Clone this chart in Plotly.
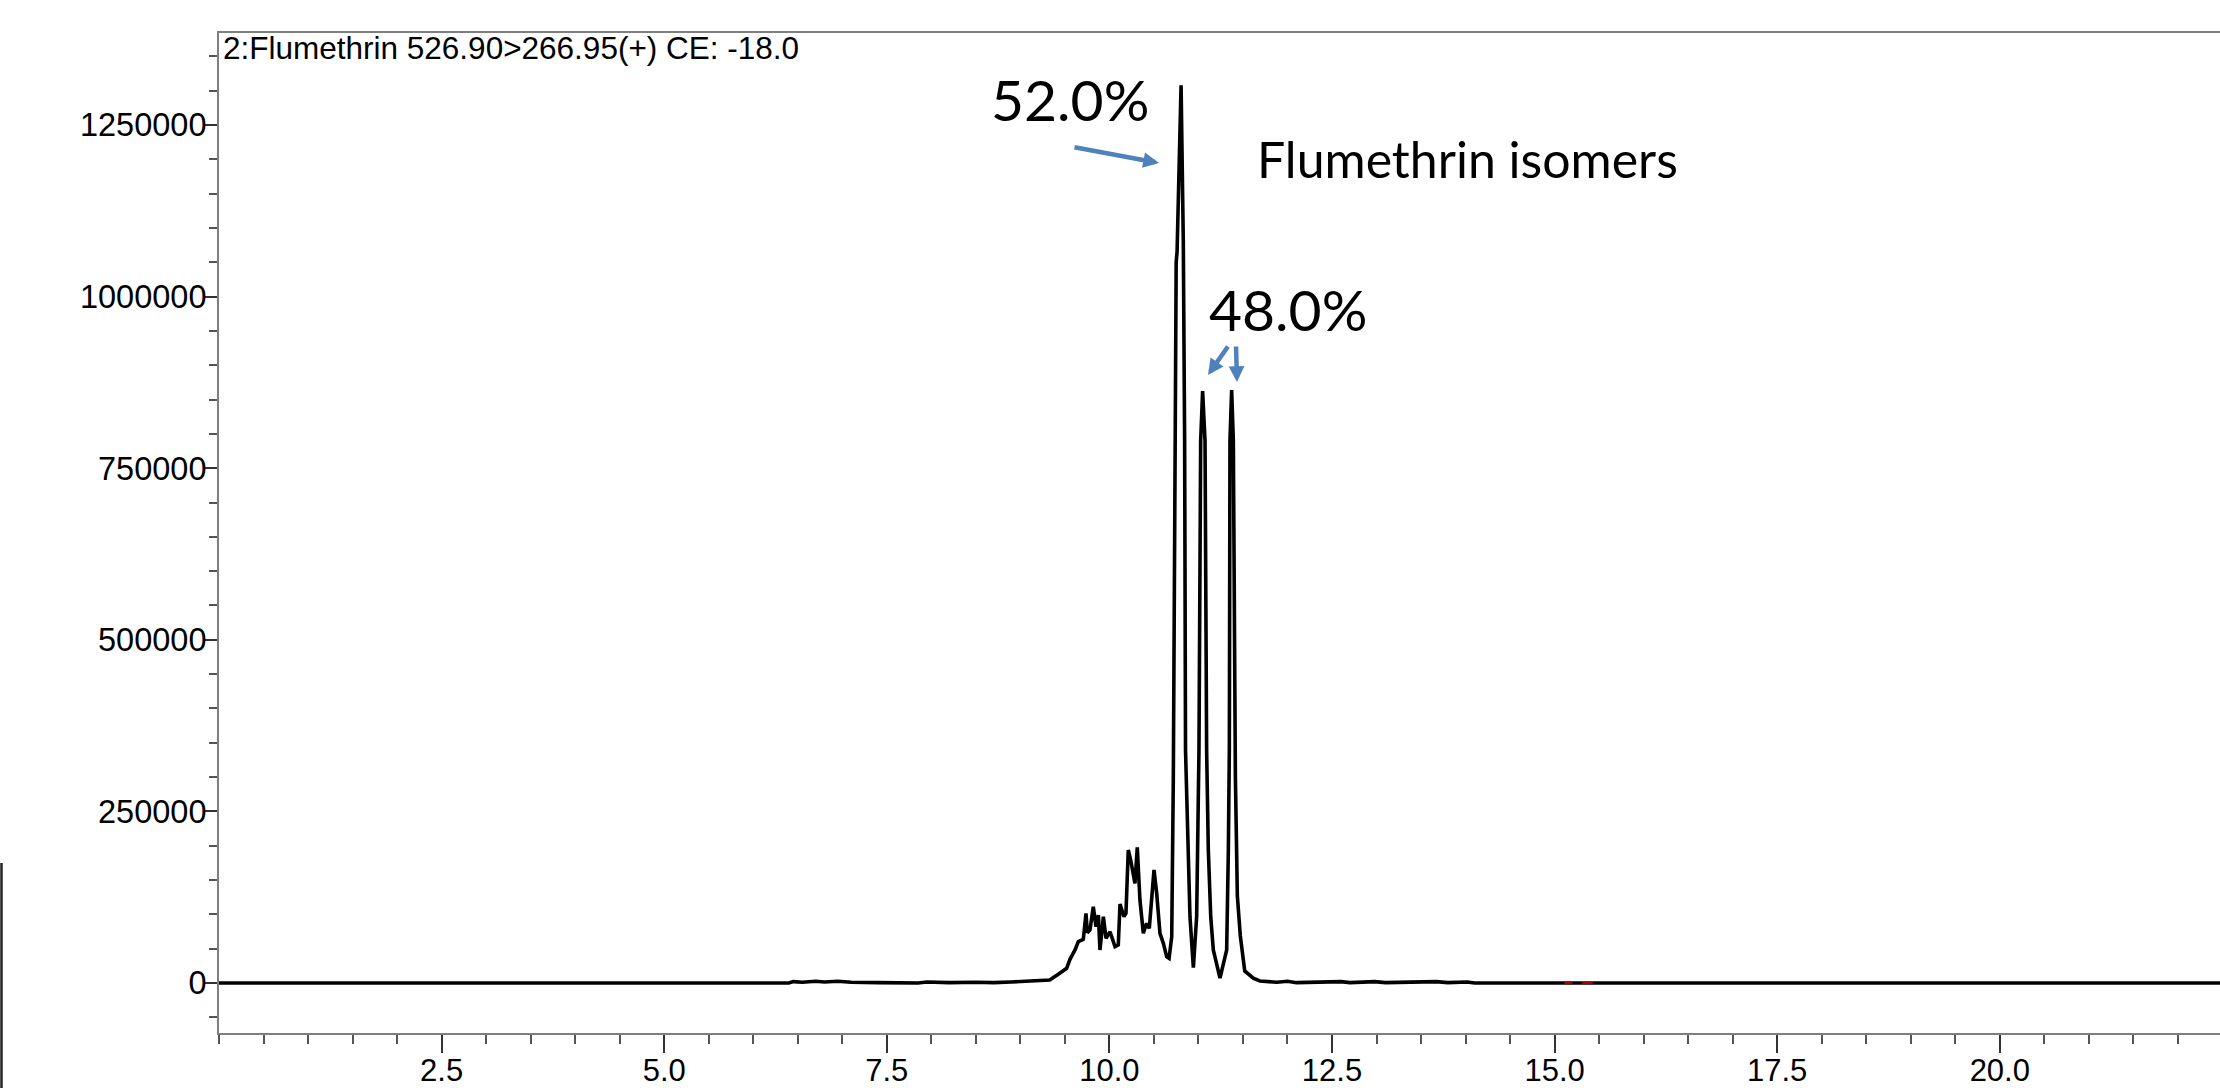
import plotly.graph_objects as go

# ---------------- data ----------------
time_min = [0.00, 6.40, 6.45, 6.55, 6.70, 6.80, 6.95, 7.10, 7.40, 7.70, 7.85, 7.95,
            8.20, 8.50, 8.70, 8.90, 9.05, 9.20, 9.33, 9.43, 9.52, 9.557, 9.614, 9.651,
            9.707, 9.737, 9.752, 9.782, 9.819, 9.850, 9.876, 9.894, 9.932, 9.962,
            10.007, 10.063, 10.100, 10.119, 10.164, 10.186, 10.212, 10.239, 10.268,
            10.287, 10.313, 10.343, 10.381, 10.418, 10.448, 10.501, 10.531, 10.568,
            10.606, 10.643, 10.670, 10.700, 10.718, 10.737, 10.750, 10.760, 10.805,
            10.830, 10.845, 10.855, 10.879, 10.905, 10.943, 10.980, 11.006, 11.025,
            11.047, 11.074, 11.092, 11.111, 11.138, 11.167, 11.242, 11.317, 11.336,
            11.347, 11.354, 11.373, 11.392, 11.415, 11.437, 11.470, 11.520, 11.616,
            11.690, 11.880, 12.00, 12.10, 12.60, 12.70, 12.98, 13.10, 13.67, 13.80,
            14.02, 14.10, 22.5]
intensity = [0, 0, 2000, 1000, 2500, 1500, 2500, 1000, 500, 1000, 0, 1500,
             500, 1000, 500, 1500, 2500, 3500, 4400, 13100, 21400, 34500, 48100, 60200,
             63600, 101500, 73300, 77200, 111200, 82000, 99100, 48100, 96600, 65100,
             74700, 52900, 55400, 115100, 96600, 101500, 193800, 179200, 159800,
             145200, 197700, 120900, 72400, 87000, 79700, 164600, 130700, 72400,
             57800, 38300, 36000, 67500, 300000, 790000, 1050000, 1065000, 1308000,
             1080000, 790000, 339000, 193800, 96600, 22300, 96600, 339000, 790000,
             862500, 790000, 339000, 193800, 96600, 48100, 7000, 48100, 193800,
             339000, 790000, 864000, 790000, 300000, 127000, 69000, 17500, 7000,
             3000, 1000, 2500, 500, 2000, 500, 2000, 500, 2000, 500,
             1500, 0, 0]

# second channel (red) visible only as small dashes on the baseline
red_time = [15.11, 15.20, None, 15.31, 15.43]
red_intensity = [0, 0, None, 0, 0]

x_tick_vals = [2.5, 5.0, 7.5, 10.0, 12.5, 15.0, 17.5, 20.0]
x_tick_text = ["2.5", "5.0", "7.5", "10.0", "12.5", "15.0", "17.5", "20.0"]
y_tick_vals = [0, 250000, 500000, 750000, 1000000, 1250000]
y_tick_text = ["0", "250000", "500000", "750000", "1000000", "1250000"]

title_text = "2:Flumethrin 526.90>266.95(+) CE: -18.0"
label_major = "52.0%"
label_minor = "48.0%"
label_group = "Flumethrin isomers"

# ---------------- layout geometry ----------------
W, H = 2220, 1088
ML, MT, MB, MR = 219, 33, 55, 0
PW, PH = W - ML - MR, H - MT - MB


def px(xp):
    return (xp - ML) / PW


def py(yp):
    return (H - MB - yp) / PH


fig = go.Figure()
fig.add_trace(go.Scatter(x=time_min, y=intensity, mode="lines",
                         line=dict(color="black", width=3.6), hoverinfo="skip",
                         showlegend=False))
fig.add_trace(go.Scatter(x=red_time, y=red_intensity, mode="lines",
                         line=dict(color="#e00000", width=1.5), hoverinfo="skip",
                         showlegend=False, connectgaps=False))

x_tick_font = dict(family="Liberation Sans, Arial, sans-serif", size=31, color="black")
y_tick_font = dict(family="Liberation Sans, Arial, sans-serif", size=32.5, color="black")
title_font = dict(family="Liberation Sans, Arial, sans-serif", size=31.5, color="black")
call_font = dict(family="Lato, Open Sans, sans-serif", size=57, color="black")
arrow_col = "#4F81BD"

annotations = [
    dict(text=title_text, xref="paper", yref="paper", x=px(221), y=py(48),
         xanchor="left", yanchor="middle", showarrow=False, font=title_font),
    dict(text=label_major, xref="paper", yref="paper", x=px(1070), y=py(99),
         xanchor="center", yanchor="middle", showarrow=False, font=call_font),
    dict(text=label_minor, xref="paper", yref="paper", x=px(1288), y=py(309),
         xanchor="center", yanchor="middle", showarrow=False, font=call_font),
    dict(text=label_group, xref="paper", yref="paper", x=px(1467), y=py(159),
         xanchor="center", yanchor="middle", showarrow=False,
         font=dict(family="Lato, Open Sans, sans-serif", size=50, color="black")),
]
for (hx, hy, tx, ty) in [(1159, 163, 1073, 147), (1208, 375, 1229, 345), (1237, 382, 1236, 345)]:
    annotations.append(dict(text="", xref="paper", yref="paper", x=px(hx), y=py(hy),
                            ax=tx - hx, ay=ty - hy, showarrow=True, arrowhead=2,
                            arrowsize=0.7, arrowwidth=4.5, arrowcolor=arrow_col,
                            standoff=0))

fig.update_layout(
    width=W, height=H,
    margin=dict(l=ML, r=MR, t=MT, b=MB, pad=0, autoexpand=False),
    paper_bgcolor="white", plot_bgcolor="white",
    annotations=annotations,
    shapes=[dict(type="line", xref="paper", yref="paper",
                 x0=px(1.5), x1=px(1.5), y0=py(863), y1=py(1090),
                 line=dict(color="#222222", width=2.5))],
)
fig.update_xaxes(range=[0, PW / 89.04], automargin=False,
                 showline=True, linecolor="#7f7f7f", linewidth=2,
                 mirror=True, ticks="outside", ticklen=18, tickwidth=1.5, tickcolor="#333333",
                 tickvals=x_tick_vals, ticktext=x_tick_text, tickfont=x_tick_font,
                 ticklabelstandoff=-9,
                 showgrid=False, zeroline=False,
                 minor=dict(dtick=0.5, tick0=0, ticks="outside", ticklen=9,
                            tickwidth=1.5, tickcolor="#555555", showgrid=False))
fig.update_yaxes(range=[-72844, 1384033], automargin=False,
                 showline=True, linecolor="#7f7f7f", linewidth=2,
                 ticks="outside", ticklen=12, tickwidth=1.5, tickcolor="#333333",
                 tickvals=y_tick_vals, ticktext=y_tick_text, tickfont=y_tick_font,
                 ticklabelstandoff=-8,
                 showgrid=False, zeroline=False,
                 minor=dict(dtick=50000, tick0=0, ticks="outside", ticklen=8,
                            tickwidth=1.5, tickcolor="#555555", showgrid=False))

fig.write_html("out.html", config={"displayModeBar": False},
               post_script="document.body.style.margin='0';document.body.style.overflow='hidden';")
